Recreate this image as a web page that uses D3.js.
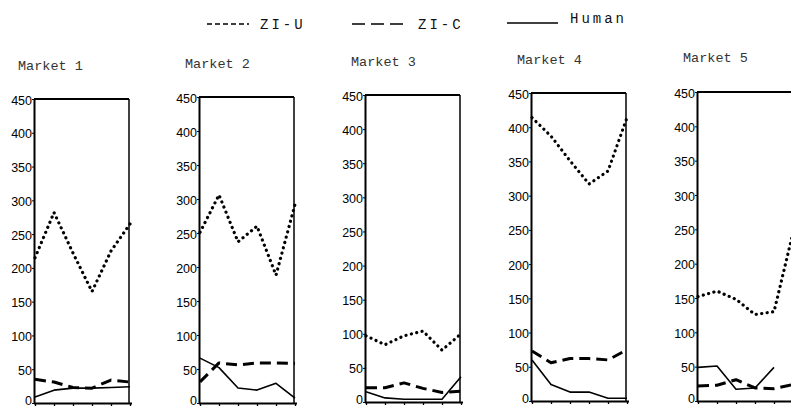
<!DOCTYPE html>
<html><head><meta charset="utf-8">
<script src="https://cdn.jsdelivr.net/npm/d3@7"></script>
<style>
html,body{margin:0;padding:0;background:#fff;}
svg{display:block;}
</style></head>
<body><svg id="c" width="791" height="407"></svg>
<script>
// ---- data ----
const periods = [1, 2, 3, 4, 5, 6];
const markets = ["Market 1", "Market 2", "Market 3", "Market 4", "Market 5"];
const yTicks = [0, 50, 100, 150, 200, 250, 300, 350, 400, 450];
const seriesNames = ["ZI-U", "ZI-C", "Human"];
const ziU = [
  [215, 282, 222, 165, 225, 265],
  [251, 306, 237, 260, 188, 292],
  [97, 84, 97, 104, 76, 100],
  [414, 387, 351, 317, 336, 414],
  [152, 160, 148, 126, 130, 245]
];
const ziC = [
  [35, 31, 23, 22, 34, 31],
  [31, 59, 56, 59, 59, 58],
  [21, 21, 28, 20, 14, 16],
  [73, 56, 62, 62, 60, 75],
  [22, 23, 31, 19, 18, 24]
];
const human = [
  [9, 19, 22, 22, 23, 24],
  [66, 52, 22, 19, 29, 7],
  [15, 6, 4, 4, 4, 37],
  [60, 24, 13, 13, 4, 4],
  [49, 51, 17, 19, 49, null]
];

// ---- layout ----
const panelLeft = [34, 199, 365, 531, 697];
const panelTop = [99, 97, 95, 93, 92];
const panelBottom = [403, 403, 402, 401, 401];
const panelWidth = 95;
const titleX = [18, 185, 351, 517, 683];
const titleY = [70, 68, 66, 64, 62];

const svg = d3.select("#c");
const styles = {
  "ZI-U": {w: 3.2, dash: "0.1,5.4", cap: "round"},
  "ZI-C": {w: 3, dash: "11,6", cap: "butt"},
  "Human": {w: 1.6, dash: null, cap: "butt"}
};

markets.forEach((m, i) => {
  const L = panelLeft[i], T = panelTop[i], B = panelBottom[i], R = L + panelWidth;
  const x = d3.scaleLinear().domain([1, 6]).range([L + 1, R + 1]);
  const y = d3.scaleLinear().domain([0, 450]).range([B, T]);
  const g = svg.append("g");

  g.append("text").attr("x", titleX[i]).attr("y", titleY[i])
    .attr("font-family", "Liberation Mono, Courier New, monospace")
    .attr("font-size", 13.5).attr("fill", "#333").text(m);

  // frame top & right
  g.append("line").attr("x1", L).attr("x2", R).attr("y1", T).attr("y2", T)
    .attr("stroke", "#000").attr("stroke-width", 2);
  g.append("line").attr("x1", R).attr("x2", R).attr("y1", T).attr("y2", B)
    .attr("stroke", "#000").attr("stroke-width", 1.5);

  const ya = g.append("g").attr("transform", `translate(${L},0)`)
    .call(d3.axisLeft(y).tickValues(yTicks).tickSize(2).tickPadding(0).tickSizeOuter(0));
  ya.select(".domain").attr("stroke-width", 2);
  ya.selectAll("text").attr("font-family", "Liberation Sans, Arial, sans-serif")
    .attr("font-size", 12.5).attr("fill", "#000")
    .attr("dy", d => d === 0 ? "0.1em" : "0.4em");

  const xa = g.append("g").attr("transform", `translate(0,${B})`)
    .call(d3.axisBottom(x).tickValues(periods).tickSize(3).tickFormat("").tickSizeOuter(0));
  xa.select(".domain").attr("stroke-width", 2).attr("d", `M${L},0.5H${R + 3}`);
  xa.selectAll(".tick line").attr("stroke-width", 1.3);

  const data = {"ZI-U": ziU[i], "ZI-C": ziC[i], "Human": human[i]};
  seriesNames.forEach(s => {
    const st = styles[s];
    const line = d3.line().defined(d => d != null)
      .x((d, j) => x(periods[j])).y(d => y(d));
    g.append("path").datum(data[s]).attr("d", line)
      .attr("fill", "none").attr("stroke", "#000")
      .attr("stroke-width", st.w).attr("stroke-dasharray", st.dash)
      .attr("stroke-linecap", st.cap).attr("stroke-linejoin", "round");
  });
});

// ---- legend ----
const legX = [207, 352, 507];
const legW = [42, 51, 51];
const legLineY = [24, 24, 23];
const legTextX = [260, 418, 570];
const legTextY = [29, 29, 23];
const legDash = ["5,3", "13,6", null];
seriesNames.forEach((s, k) => {
  svg.append("line").attr("x1", legX[k]).attr("x2", legX[k] + legW[k])
    .attr("y1", legLineY[k]).attr("y2", legLineY[k])
    .attr("stroke", "#000").attr("stroke-width", 1.5)
    .attr("stroke-dasharray", legDash[k]);
  svg.append("text").attr("x", legTextX[k]).attr("y", legTextY[k])
    .attr("font-family", "Liberation Mono, Courier New, monospace")
    .attr("font-size", 14).attr("letter-spacing", 3).attr("fill", "#111").text(s);
});
</script></body></html>
